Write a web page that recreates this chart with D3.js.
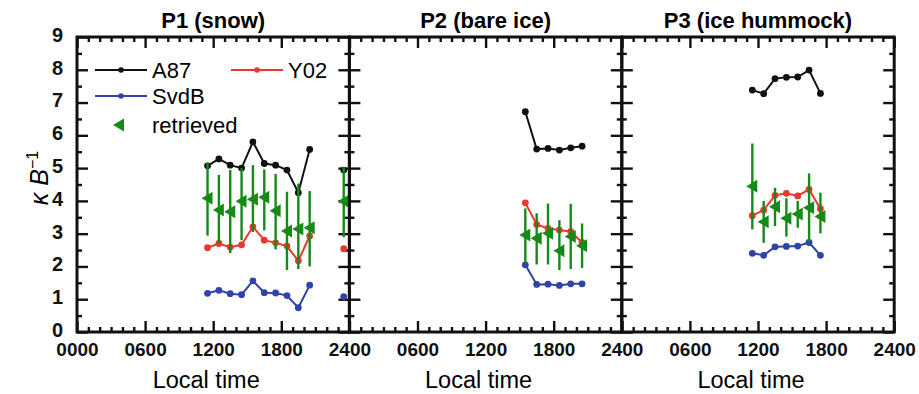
<!DOCTYPE html>
<html>
<head>
<meta charset="utf-8">
<script src="https://cdn.jsdelivr.net/npm/d3@7"></script>
<style>
  body { margin: 0; background: #fff; }
  svg { font-family: "Liberation Sans", Arial, sans-serif; }
  .axis path.domain { display: none; }
  .axis line { stroke: #111; stroke-width: 2.4; }
</style>
</head>
<body>
<script>
// panel titles
var titles = ["P1 (snow)", "P2 (bare ice)", "P3 (ice hummock)"]

// P1 (snow)
var p1Time = [11.5, 12.5, 13.5, 14.5, 15.5, 16.5, 17.5, 18.5, 19.5, 20.5, 23.5]
var p1A87 = [5.07, 5.28, 5.09, 5.0, 5.8, 5.14, 5.09, 4.94, 4.25, 5.57, 4.94]
var p1Y02 = [2.57, 2.7, 2.59, 2.66, 3.21, 2.8, 2.72, 2.62, 2.17, 2.93, 2.54]
var p1SvdB = [1.18, 1.27, 1.17, 1.14, 1.56, 1.2, 1.19, 1.11, 0.74, 1.43, 1.08]
var p1Ret = [4.08, 3.72, 3.67, 3.99, 4.05, 4.11, 3.7, 3.08, 3.14, 3.18, 3.99]
var p1RetLo = [2.94, 2.7, 2.41, 2.8, 3.05, 3.1, 2.52, 1.89, 1.92, 2.0, 2.89]
var p1RetHi = [5.16, 4.79, 4.94, 5.0, 5.09, 4.96, 4.82, 4.28, 4.53, 4.3, 5.04]

// P2 (bare ice)
var p2Time = [15.5, 16.5, 17.5, 18.5, 19.5, 20.5]
var p2A87 = [6.72, 5.58, 5.6, 5.55, 5.62, 5.67]
var p2Y02 = [3.94, 3.28, 3.16, 3.11, 3.06, 2.73]
var p2SvdB = [2.05, 1.45, 1.46, 1.42, 1.47, 1.47]
var p2Ret = [2.96, 2.86, 3.01, 2.48, 2.91, 2.63]
var p2RetLo = [2.09, 2.06, 2.06, 1.89, 1.92, 1.95]
var p2RetHi = [3.77, 3.62, 3.92, 3.41, 3.91, 3.31]

// P3 (ice hummock)
var p3Time = [11.5, 12.5, 13.5, 14.5, 15.5, 16.5, 17.5]
var p3A87 = [7.38, 7.27, 7.73, 7.77, 7.78, 7.99, 7.28]
var p3Y02 = [3.55, 3.72, 4.17, 4.23, 4.15, 4.35, 3.76]
var p3SvdB = [2.4, 2.34, 2.6, 2.61, 2.62, 2.73, 2.34]
var p3Ret = [4.45, 3.36, 3.82, 3.47, 3.6, 3.79, 3.52]
var p3RetLo = [3.13, 2.72, 3.23, 2.91, 3.18, 2.75, 3.01]
var p3RetHi = [5.75, 4.0, 4.4, 4.08, 4.0, 4.84, 4.25]

// ticks
var yTicks = [0, 1, 2, 3, 4, 5, 6, 7, 8, 9]
var xTicks = [0, 6, 12, 18, 24]
var xTickLabels = ["0000", "0600", "1200", "1800", "2400"]
var seriesNames = ["A87", "Y02", "SvdB", "retrieved"]

var colors = {A87: "#111111", Y02: "#e8392c", SvdB: "#2f44a8", retrieved: "#168a16"}

var panels = [
  {time: p1Time, A87: p1A87, Y02: p1Y02, SvdB: p1SvdB, ret: p1Ret, lo: p1RetLo, hi: p1RetHi},
  {time: p2Time, A87: p2A87, Y02: p2Y02, SvdB: p2SvdB, ret: p2Ret, lo: p2RetLo, hi: p2RetHi},
  {time: p3Time, A87: p3A87, Y02: p3Y02, SvdB: p3SvdB, ret: p3Ret, lo: p3RetLo, hi: p3RetHi}
]

var width = 919
var height = 394
var margin = {top: 37, left: 77}
var pw = 272.4
var ph = 295

var svg = d3.select("body").append("svg")
    .attr("width", width)
    .attr("height", height)

var x = d3.scaleLinear().domain([0, 24]).range([0, pw])
var y = d3.scaleLinear().domain([0, 9]).range([ph, 0])

var triangle = "M-6,0L5,-6.5L5,6.5Z"

// split a series into runs, a gap of more than one hour breaks the line
function runs(times, vals) {
  var out = [], cur = []
  times.forEach((t, i) => {
    if (cur.length && t - cur[cur.length - 1][0] > 1.5) { out.push(cur); cur = [] }
    cur.push([t, vals[i]])
  })
  if (cur.length) out.push(cur)
  return out
}

var line = d3.line().x(d => x(d[0])).y(d => y(d[1]))

panels.forEach((p, k) => {
  var g = svg.append("g")
    .attr("transform", `translate(${margin.left + k * pw},${margin.top})`)

  // ticks, inward on all four sides
  function tickAxis(axis, vals, size, tr) {
    g.append("g").attr("class", "axis").attr("transform", tr || null)
      .call(axis.tickValues(vals).tickSize(-size).tickFormat(""))
  }
  var minorY = d3.range(0.5, 9, 1)
  var minorX = d3.range(1, 24).filter(h => h % 6 != 0)
  tickAxis(d3.axisLeft(y), yTicks, 11)
  tickAxis(d3.axisLeft(y), minorY, 5)
  tickAxis(d3.axisRight(y), yTicks, 11, `translate(${pw},0)`)
  tickAxis(d3.axisRight(y), minorY, 5, `translate(${pw},0)`)
  tickAxis(d3.axisBottom(x), xTicks, 11, `translate(0,${ph})`)
  tickAxis(d3.axisBottom(x), minorX, 5, `translate(0,${ph})`)
  tickAxis(d3.axisTop(x), xTicks, 11)
  tickAxis(d3.axisTop(x), minorX, 5)

  // x labels
  var xl = g.append("g").attr("class", "axis")
    .attr("transform", `translate(0,${ph})`)
    .call(d3.axisBottom(x)
      .tickValues(k == 0 ? xTicks : xTicks.slice(1))
      .tickSize(0).tickPadding(11)
      .tickFormat(d => xTickLabels[xTicks.indexOf(d)]))
  xl.selectAll("text").style("font-size", "19px").style("font-weight", "bold").attr("fill", "#111")

  if (k == 0) {
    var yl = g.append("g").attr("class", "axis")
      .call(d3.axisLeft(y).tickValues(yTicks).tickSize(0).tickPadding(14))
    yl.selectAll("text").attr("dy", "0.22em")
      .style("font-size", "20px").style("font-weight", "bold").attr("fill", "#111")
  }

  // frame
  g.append("rect")
    .attr("width", pw).attr("height", ph)
    .attr("fill", "none").attr("stroke", "#111").attr("stroke-width", 3)

  // title
  g.append("text")
    .attr("x", pw / 2).attr("y", -9)
    .attr("text-anchor", "middle")
    .style("font-size", "22px").style("font-weight", "bold")
    .text(titles[k])

  // local time
  g.append("text")
    .attr("x", pw / 2 - 7).attr("y", ph + 56)
    .attr("text-anchor", "middle")
    .style("font-size", "23.5px")
    .text("Local time")

  // model lines with dots
  ;["A87", "Y02", "SvdB"].forEach(s => {
    runs(p.time, p[s]).forEach(r => {
      g.append("path").datum(r)
        .attr("d", line)
        .attr("fill", "none").attr("stroke", colors[s]).attr("stroke-width", 2)
    })
    g.selectAll(".dot-" + s)
      .data(p.time.map((t, i) => [t, p[s][i]]))
      .enter().append("circle")
      .attr("cx", d => x(d[0])).attr("cy", d => y(d[1]))
      .attr("r", 3.4).attr("fill", colors[s])
  })

  // retrieved with error bars
  var ret = p.time.map((t, i) => ({t: t, v: p.ret[i], lo: p.lo[i], hi: p.hi[i]}))
  g.selectAll(".err").data(ret).enter().append("line")
    .attr("x1", d => x(d.t)).attr("x2", d => x(d.t))
    .attr("y1", d => y(d.lo)).attr("y2", d => y(d.hi))
    .attr("stroke", colors.retrieved).attr("stroke-width", 2.4)
  g.selectAll(".tri").data(ret).enter().append("path")
    .attr("d", triangle)
    .attr("transform", d => `translate(${x(d.t)},${y(d.v)})`)
    .attr("fill", colors.retrieved)
})

// y label
svg.append("text")
  .attr("transform", "translate(48,178) rotate(-90)")
  .attr("text-anchor", "middle")
  .style("font-size", "25px").style("font-style", "italic")
  .text("\u03ba B")
  .append("tspan").attr("dy", -10).style("font-size", "16px").style("font-style", "normal").text("\u22121")

// legend
var leg = svg.append("g")
var legPos = [[95, 70], [231, 70], [95, 96], [95, 125]]
seriesNames.forEach((s, i) => {
  var lx = legPos[i][0], ly = legPos[i][1]
  if (s == "retrieved") {
    leg.append("path").attr("d", triangle)
      .attr("transform", `translate(${lx + 24},${ly})`).attr("fill", colors[s])
  } else {
    leg.append("line").attr("x1", lx).attr("x2", lx + 52).attr("y1", ly).attr("y2", ly)
      .attr("stroke", colors[s]).attr("stroke-width", 2)
    leg.append("circle").attr("cx", lx + 26).attr("cy", ly).attr("r", 2.8).attr("fill", colors[s])
  }
  leg.append("text").attr("x", lx + 57).attr("y", ly + 8)
    .style("font-size", "22px").text(s)
})
</script>
</body>
</html>
